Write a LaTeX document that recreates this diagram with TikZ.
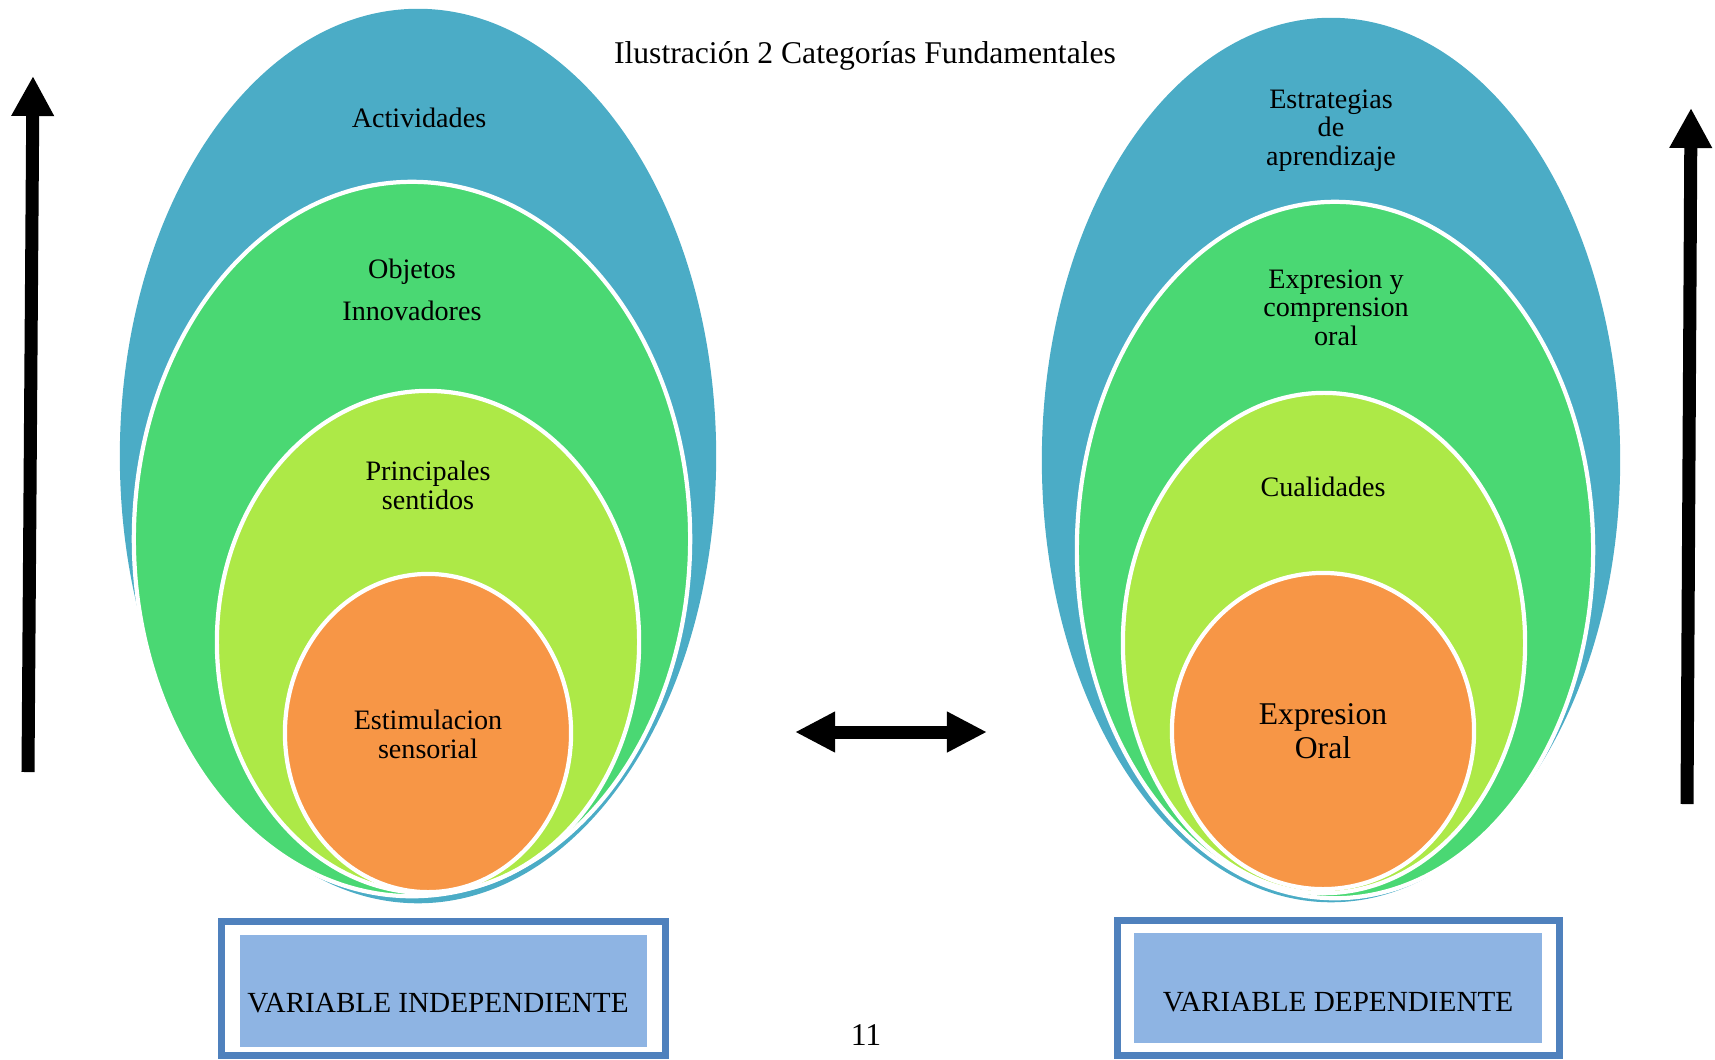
\documentclass[tikz,border=0pt]{standalone}
\usepackage{fontspec}
\setmainfont{Liberation Serif}
\usetikzlibrary{arrows.meta}
\definecolor{ringblue}{HTML}{4BACC6}
\definecolor{ringgreen}{HTML}{4AD873}
\definecolor{ringlime}{HTML}{ADE947}
\definecolor{ringorange}{HTML}{F79646}
\definecolor{boxline}{HTML}{4F81BD}
\definecolor{boxfill}{HTML}{8EB4E3}
\begin{document}
\begin{tikzpicture}[x=0.01cm,y=-0.01cm,
    ring/.style={draw=white,line width=1.2pt},
    lbl/.style={anchor=base,align=center,font=\fontsize{8}{8.1}\selectfont},
    biglbl/.style={anchor=base,align=center,font=\fontsize{9}{9.4}\selectfont},
    boxlbl/.style={anchor=base,font=\fontsize{8.3}{10}\selectfont},
    varbox/.style={draw=boxline,line width=0.07cm,fill=white},
    uparrow/.style={line width=0.13cm,-{Triangle[length=0.4cm,width=0.4cm]}},
    twoway/.style={line width=0.13cm,{Triangle[length=0.4cm,width=0.38cm]}-{Triangle[length=0.4cm,width=0.38cm]}}]
  \useasboundingbox (0,0) rectangle (1715,1059);

  \node[anchor=base,font=\fontsize{9}{10}\selectfont] (title) at (865,63) {Ilustración 2 Categorías Fundamentales};

  % independiente
  \fill[ringblue] (418,456) ellipse [x radius=2.98cm,y radius=4.47cm];
  \filldraw[ring,fill=ringgreen] (412,539) ellipse [x radius=2.78cm,y radius=3.57cm];
  \filldraw[ring,fill=ringlime] (428,642) ellipse [x radius=2.11cm,y radius=2.51cm];
  \filldraw[ring,fill=ringorange] (428,733) ellipse [x radius=1.43cm,y radius=1.59cm];
  \node[lbl] (act) at (419,127) {Actividades};
  \node[lbl] (obj) at (412,320) {Objetos\\[3.6pt]Innovadores};
  \node[lbl] (princ) at (428,509) {Principales\\sentidos};
  \node[lbl] (estim) at (428,758) {Estimulacion\\sensorial};

  % dependiente
  \fill[ringblue] (1331,460) ellipse [x radius=2.89cm,y radius=4.42cm];
  \filldraw[ring,fill=ringgreen] (1335,550) ellipse [x radius=2.58cm,y radius=3.48cm];
  \filldraw[ring,fill=ringlime] (1324,643) ellipse [x radius=2.01cm,y radius=2.50cm];
  \filldraw[ring,fill=ringorange] (1323,731) ellipse [x radius=1.51cm,y radius=1.58cm];
  \node[lbl] (estr) at (1331,165) {Estrategias\\de\\aprendizaje};
  \node[lbl] (expr) at (1336,345) {Expresion y\\comprension\\oral};
  \node[lbl] (cual) at (1323,496) {Cualidades};
  \node[biglbl] (oral) at (1323,758) {Expresion\\Oral};

  \draw[varbox] (221,921) rectangle (665,1055);
  \fill[boxfill] (240,935) rectangle (647,1047);
  \node[boxlbl] (vind) at (438,1012) {VARIABLE INDEPENDIENTE};
  \draw[varbox] (1117,920) rectangle (1559,1055);
  \fill[boxfill] (1134,933) rectangle (1542,1043);
  \node[boxlbl] (vdep) at (1338,1011) {VARIABLE DEPENDIENTE};

  \coordinate (lfoot) at (28,772);
  \coordinate (lhead) at (33,76);
  \draw[uparrow] (lfoot) -- (lhead);
  \coordinate (rfoot) at (1687,804);
  \coordinate (rhead) at (1691,108);
  \draw[uparrow] (rfoot) -- (rhead);
  \coordinate (linkl) at (795,732);
  \coordinate (linkr) at (987,732);
  \draw[twoway] (linkl) -- (linkr);

  \node[anchor=base,font=\fontsize{9}{10}\selectfont] (pagenum) at (866,1045) {11};
\end{tikzpicture}
\end{document}
